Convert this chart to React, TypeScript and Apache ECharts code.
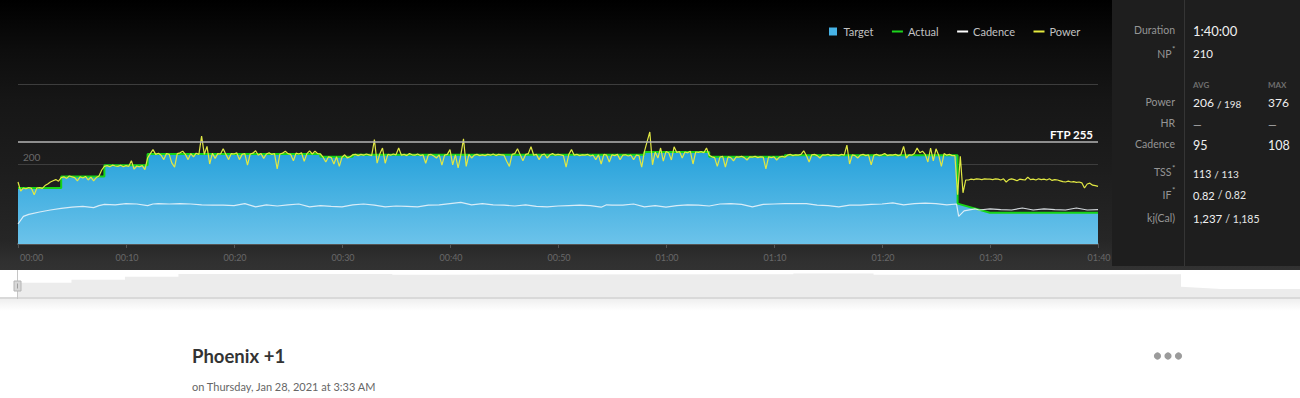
import React, { useEffect, useRef } from "react";
import * as echarts from "echarts";

// ---------------- data ----------------
const timeTickLabels = ["00:00", "00:10", "00:20", "00:30", "00:40", "00:50", "01:00", "01:10", "01:20", "01:30", "01:40"];
const legendNames = ["Target", "Actual", "Cadence", "Power"];
const ftpWatts = 255;

// target (workout) power profile: minute -> watts
const targetMinutes = [0, 4, 4, 8, 8, 12, 12, 28, 28, 31, 31, 58, 58, 64, 64, 71, 71, 87, 87, 90, 100];
const targetWatts = [140, 140, 169, 169, 197, 197, 225, 225, 218, 218, 223, 223, 230, 230, 218, 218, 222, 222, 101, 78, 78];

// actual (green) follows the target envelope
const actualMinutes = [0, 4, 4, 8, 8, 12, 12, 28, 28, 31, 31, 58, 58, 64, 64, 71, 71, 87, 87, 90, 100];
const actualWatts = [140, 140, 169, 169, 197, 197, 225, 225, 218, 218, 223, 223, 230, 230, 218, 218, 222, 222, 101, 78, 78];

// cadence (rpm)
const cadenceMinutes = [0, 0.5, 1, 2, 3, 4, 5, 6, 7, 7.5, 8, 9, 10, 11, 12, 12.5, 13, 14, 15, 16, 17, 18, 19, 20, 21, 22, 23, 24, 25, 26, 27, 28, 29, 30, 31, 32, 33, 34, 35, 36, 37, 38, 39, 40, 41, 42, 43, 44, 45, 46, 47, 48, 49, 50, 51, 52, 53, 54, 54.5, 55, 56, 57, 58, 59, 60, 61, 62, 63, 64, 65, 66, 67, 68, 69, 70, 71, 72, 73, 74, 75, 76, 77, 78, 79, 80, 81, 82, 83, 84, 85, 86, 86.9, 87.1, 87.6, 88.6, 89, 90, 91, 92, 93, 94, 95, 96, 97, 98, 99, 100];
const cadenceRpm = [50, 69, 74, 80, 85, 89, 92, 94, 91, 96, 99, 98, 101, 100, 96, 100, 101, 100, 101, 100, 98, 97, 97, 96, 101, 93, 98, 95, 98, 100, 93, 96, 94, 93, 98, 100, 97, 93, 95, 94, 93, 97, 98, 101, 104, 98, 101, 98, 97, 95, 98, 94, 93, 95, 96, 97, 96, 92, 98, 97, 97, 100, 93, 96, 92, 96, 98, 97, 95, 100, 101, 99, 93, 99, 100, 101, 101, 101, 97, 96, 93, 97, 97, 99, 100, 103, 98, 101, 102, 101, 98, 100, 69, 83, 88, 85, 88, 86, 85, 90, 85, 88, 86, 85, 90, 85, 86];

// power (watts), one reading every quarter minute
const powerStepMinutes = 0.25;
const powerWatts = [
  155, 132, 140, 138, 141, 139, 123, 140, 141, 139, 146, 150, 155, 158, 161, 157, 166, 168, 164, 170,
  168, 166, 158, 168, 165, 169, 160, 167, 158, 166, 170, 185, 194, 196, 193, 197, 195, 194, 197, 193,
  196, 194, 208, 187, 195, 193, 196, 186, 215, 226, 236, 224, 227, 222, 211, 226, 224, 202, 192, 226,
  228, 232, 224, 211, 226, 218, 227, 224, 270, 224, 244, 200, 227, 214, 226, 225, 238, 224, 211, 226,
  225, 228, 211, 224, 226, 197, 225, 227, 233, 222, 226, 214, 225, 228, 224, 226, 188, 225, 227, 232,
  226, 224, 208, 227, 225, 228, 207, 226, 233, 225, 232, 226, 225, 217, 205, 218, 216, 200, 218, 194,
  217, 223, 215, 218, 223, 224, 221, 224, 222, 225, 223, 221, 261, 202, 225, 240, 202, 224, 222, 225,
  223, 240, 222, 224, 221, 226, 223, 222, 225, 221, 223, 202, 223, 224, 220, 215, 223, 197, 222, 224,
  236, 198, 223, 190, 222, 263, 194, 224, 215, 222, 224, 221, 223, 221, 224, 222, 225, 221, 224, 223,
  222, 207, 194, 224, 226, 238, 223, 208, 224, 226, 243, 222, 224, 211, 223, 225, 215, 223, 226, 222,
  224, 223, 221, 192, 224, 236, 222, 224, 221, 223, 222, 224, 220, 222, 211, 223, 200, 224, 222, 205,
  223, 221, 224, 211, 222, 223, 220, 222, 211, 222, 221, 192, 231, 256, 280, 198, 230, 215, 240, 207,
  231, 228, 210, 243, 229, 231, 215, 230, 228, 232, 200, 230, 229, 231, 228, 240, 222, 218, 216, 194,
  217, 219, 192, 218, 216, 208, 218, 217, 219, 216, 210, 218, 217, 219, 216, 218, 217, 188, 218, 216,
  218, 210, 217, 219, 217, 222, 224, 221, 223, 222, 224, 233, 221, 205, 223, 224, 221, 215, 223, 222,
  224, 221, 223, 222, 221, 224, 222, 247, 200, 223, 221, 215, 222, 224, 221, 223, 198, 222, 224, 221,
  223, 226, 221, 223, 222, 224, 221, 223, 244, 215, 223, 222, 226, 240, 228, 232, 224, 205, 240, 208,
  238, 222, 194, 226, 222, 224, 221, 221, 123, 219, 128, 160, 160, 162, 161, 163, 162, 161, 163, 162,
  162, 161, 163, 162, 160, 163, 155, 161, 163, 161, 158, 162, 161, 160, 167, 161, 162, 160, 163, 161,
  162, 160, 163, 159, 161, 160, 158, 156, 155, 157, 155, 156, 154, 155, 153, 140, 150, 152, 147, 146,
  144,
];

// summary panel
const statLabels = ["Duration", "NP", "Power", "HR", "Cadence", "TSS", "IF", "kj(Cal)"];
const workoutTitle = "Phoenix +1";
const workoutDate = "on Thursday, Jan 28, 2021 at 3:33 AM";

// the overview strip shows only the first part of the ride (window is cut at the page edge)
const overviewVisibleMinutes = 95.9;

const FONT = "Lato, 'Open Sans', sans-serif";

const pairs = (xs: number[], ys: number[]) => xs.map((x, i) => [x, ys[i]]);

export default function App() {
  const ref = useRef<HTMLDivElement>(null);

  useEffect(() => {
    document.body.style.margin = "0";
    if (!ref.current) return;
    const chart = echarts.init(ref.current, undefined, { renderer: "svg" });

    const targetData = pairs(targetMinutes, targetWatts);
    const actualData = pairs(actualMinutes, actualWatts);
    const cadenceData = pairs(cadenceMinutes, cadenceRpm);
    const powerData = powerWatts.map((w, i) => [i * powerStepMinutes, w]);

    const label = (x: number, y: number, text: string, extra: any = {}) => ({
      type: "text",
      x,
      y,
      z: 100,
      style: {
        text,
        fill: "#959595",
        fontSize: 10.5,
        fontFamily: FONT,
        align: "right",
        verticalAlign: "middle",
        ...extra,
      },
    });
    const value = (x: number, y: number, text: string, size: number, extra: any = {}) => ({
      type: "text",
      x,
      y,
      z: 100,
      style: {
        text,
        fill: "#f0f0f0",
        fontSize: size,
        fontFamily: FONT,
        align: "left",
        verticalAlign: "middle",
        ...extra,
      },
    });
    const richValue = (x: number, y: number, a: string, b: string, sa: number, sb: number) => ({
      type: "text",
      x,
      y,
      z: 100,
      style: {
        text: `{a|${a}} {b|/ ${b}}`,
        align: "left",
        verticalAlign: "middle",
        fontFamily: FONT,
        rich: {
          a: { fontSize: sa, fill: "#f0f0f0", fontFamily: FONT, verticalAlign: "bottom" },
          b: { fontSize: sb, fill: "#e6e6e6", fontFamily: FONT, verticalAlign: "bottom" },
        },
      },
    });
    const sup = (x: number, y: number) => ({
      type: "text",
      x,
      y,
      z: 100,
      style: { text: "*", fill: "#a0a0a0", fontSize: 8, fontFamily: FONT, align: "left", verticalAlign: "middle" },
    });

    const LX = 1175;
    const LXS = 1171.5;
    const VX = 1193;
    const MX = 1268;

    const option: any = {
      animation: false,
      textStyle: { fontFamily: FONT },
      legend: {
        data: [
          { name: legendNames[0], icon: "path://M0,0H8V8H0Z" },
          { name: legendNames[1], icon: "path://M0,0H11V2H0Z" },
          { name: legendNames[2], icon: "path://M0,0H11V2H0Z" },
          { name: legendNames[3], icon: "path://M0,0H11V2H0Z" },
        ],
        left: 829,
        top: 26,
        padding: 0,
        itemWidth: 11,
        itemHeight: 8,
        itemGap: 18.5,
        selectedMode: false,
        itemStyle: { borderWidth: 0 },
        lineStyle: { width: 0 },
        textStyle: { color: "#c2c2c2", fontSize: 11, fontFamily: FONT },
      },
      grid: [
        { left: 18, top: 84, width: 1080, height: 160 },
        { left: 18, top: 270, right: 0, height: 27 },
      ],
      xAxis: [
        {
          type: "value",
          gridIndex: 0,
          min: 0,
          max: 100,
          interval: 10,
          axisLine: { show: true, lineStyle: { color: "#555", width: 2 } },
          axisTick: { show: true, length: 4, lineStyle: { color: "#555", width: 1 } },
          axisLabel: {
            color: "#686868",
            fontSize: 9,
            margin: 9,
            fontFamily: FONT,
            alignMinLabel: "left",
            padding: [0, 0, 0, 2],
            formatter: (v: number) => timeTickLabels[Math.round(v / 10)] ?? "",
          },
          splitLine: { show: false },
        },
        { type: "value", gridIndex: 1, min: 0, max: overviewVisibleMinutes, show: false },
      ],
      yAxis: [
        {
          type: "value",
          gridIndex: 0,
          min: 0,
          max: 400,
          interval: 200,
          axisLine: { show: false },
          axisTick: { show: false },
          axisLabel: {
            inside: true,
            margin: 5,
            color: "#6a6a6a",
            fontSize: 10,
            fontFamily: FONT,
            verticalAlign: "bottom",
            padding: [0, 0, 2, 0],
            formatter: (v: number) => (v === 200 ? "200" : ""),
          },
          splitLine: { show: true, lineStyle: { color: "#3d3d3d", width: 1 } },
        },
        { type: "value", gridIndex: 1, min: 0, max: 264, show: false },
      ],
      series: [
        {
          name: "Target",
          type: "line",
          xAxisIndex: 0,
          yAxisIndex: 0,
          data: targetData,
          symbol: "none",
          silent: true,
          lineStyle: { width: 0 },
          itemStyle: { color: "#47b3e6" },
          areaStyle: {
            opacity: 1,
            color: new echarts.graphic.LinearGradient(0, 0, 0, 1, [
              { offset: 0, color: "#27a2db" },
              { offset: 1, color: "#6cc3ea" },
            ]),
          },
          markLine: {
            symbol: "none",
            silent: true,
            data: [{ yAxis: ftpWatts }],
            lineStyle: { color: "#b5b5b5", width: 1.5, type: "solid" },
            label: {
              show: true,
              position: "insideEndTop",
              formatter: `FTP ${ftpWatts}`,
              color: "#ffffff",
              fontWeight: "bold",
              fontSize: 11.5,
              fontFamily: FONT,
              distance: [5, 2],
            },
          },
        },
        {
          name: "Actual",
          type: "line",
          data: actualData,
          symbol: "none",
          silent: true,
          lineStyle: { color: "#17d417", width: 2 },
          itemStyle: { color: "#1cd41c" },
        },
        {
          name: "Cadence",
          type: "line",
          data: cadenceData,
          symbol: "none",
          silent: true,
          lineStyle: { color: "rgba(240,246,250,0.85)", width: 1.2 },
          itemStyle: { color: "#ffffff" },
        },
        {
          name: "Power",
          type: "line",
          data: powerData,
          symbol: "none",
          silent: true,
          lineStyle: { color: "#e1e843", width: 1.2 },
          itemStyle: { color: "#e5ea3e" },
        },
        {
          name: "Overview",
          type: "line",
          xAxisIndex: 1,
          yAxisIndex: 1,
          data: targetData,
          symbol: "none",
          silent: true,
          lineStyle: { width: 0 },
          itemStyle: { color: "#ececec" },
          areaStyle: { color: "#ececec", opacity: 1 },
        },
      ],
      graphic: [
        // summary panel
        { type: "rect", z: 1, shape: { x: 1112, y: 0, width: 188, height: 266 }, style: { fill: "#1e1e1e" } },
        { type: "line", z: 2, shape: { x1: 1184.5, y1: 0, x2: 1184.5, y2: 266 }, style: { stroke: "#353535", lineWidth: 1 } },
        label(LX, 29.5, statLabels[0]),
        label(LXS, 53.5, statLabels[1]),
        sup(LXS + 0.5, 49),
        label(LX, 101.5, statLabels[2]),
        label(LX, 123, statLabels[3]),
        label(LX, 143.5, statLabels[4]),
        label(LXS, 172, statLabels[5]),
        sup(LXS + 0.5, 167.5),
        label(LXS, 194.5, statLabels[6]),
        sup(LXS + 0.5, 190),
        label(LX, 217.5, statLabels[7]),
        value(VX, 31, "1:40:00", 13),
        value(VX, 53.5, "210", 11.5),
        value(VX, 84.5, "AVG", 8, { fill: "#6e6e6e", fontWeight: "bold" }),
        value(MX, 84.5, "MAX", 8, { fill: "#6e6e6e", fontWeight: "bold" }),
        richValue(VX, 102.5, "206", "198", 12, 10),
        value(MX, 102.5, "376", 12),
        value(VX, 124, "—", 11, { fill: "#b0b0b0" }),
        value(MX, 124, "—", 11, { fill: "#b0b0b0" }),
        value(VX, 145, "95", 12.5),
        value(MX, 145, "108", 12.5),
        richValue(VX, 173, "113", "113", 10.5, 10),
        richValue(VX, 194.5, "0.82", "0.82", 11, 10.5),
        richValue(VX, 218.5, "1,237", "1,185", 11.5, 10.5),
        // navigator frame
        { type: "rect", z: 5, shape: { x: 0, y: 297, width: 1300, height: 2 }, style: { fill: "#d9d9d9" } },
        {
          type: "rect",
          z: 5,
          shape: { x: 0, y: 299, width: 1300, height: 12 },
          style: {
            fill: new echarts.graphic.LinearGradient(0, 0, 0, 1, [
              { offset: 0, color: "#efefef" },
              { offset: 1, color: "#ffffff" },
            ]),
          },
        },
        { type: "line", z: 6, shape: { x1: 17.5, y1: 270, x2: 17.5, y2: 299 }, style: { stroke: "#c6c6c6", lineWidth: 1 } },
        { type: "rect", z: 7, shape: { x: 14, y: 281, width: 7, height: 10 }, style: { fill: "#d8d8d8", stroke: "#b4b4b4", lineWidth: 1 } },
        { type: "line", z: 8, shape: { x1: 17.5, y1: 283.5, x2: 17.5, y2: 288.5 }, style: { stroke: "#9e9e9e", lineWidth: 1 } },
        // title block
        {
          type: "text",
          z: 100,
          x: 192,
          y: 356,
          style: { text: workoutTitle, fill: "#333333", fontSize: 18.5, fontWeight: "bold", fontFamily: FONT, align: "left", verticalAlign: "middle" },
        },
        {
          type: "text",
          z: 100,
          x: 192,
          y: 386,
          style: { text: workoutDate, fill: "#666666", fontSize: 11, fontFamily: FONT, align: "left", verticalAlign: "middle" },
        },
        { type: "circle", z: 100, shape: { cx: 1157.5, cy: 356, r: 3.6 }, style: { fill: "#9b9b9b" } },
        { type: "circle", z: 100, shape: { cx: 1168, cy: 356, r: 3.6 }, style: { fill: "#9b9b9b" } },
        { type: "circle", z: 100, shape: { cx: 1178.5, cy: 356, r: 3.6 }, style: { fill: "#9b9b9b" } },
      ],
    };

    chart.setOption(option);
    return () => chart.dispose();
  }, []);

  return (
    <div
      ref={ref}
      style={{
        width: 1300,
        height: 398,
        background:
          "linear-gradient(to bottom, #000000 0px, #0d0d0d 50px, #161616 100px, #1d1d1d 170px, #262626 240px, #303030 262px, #323232 270px, #ffffff 270px, #ffffff 398px)",
      }}
    />
  );
}
